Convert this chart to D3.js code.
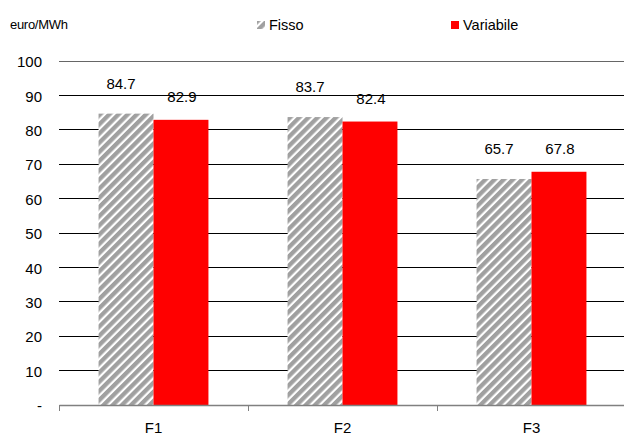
<!DOCTYPE html>
<html><head><meta charset="utf-8">
<script src="https://cdn.jsdelivr.net/npm/d3@7"></script>
<style>body{margin:0;background:#fff;font-family:"Liberation Sans",Arial,sans-serif;}</style>
</head><body>
<svg id="c" width="624" height="436"></svg>
<script>
const categories = ["F1","F2","F3"];
const seriesNames = ["Fisso","Variabile"];
const fisso = [84.7, 83.7, 65.7];
const variabile = [82.9, 82.4, 67.8];
const yTicks = [0,10,20,30,40,50,60,70,80,90,100];
const yTickLabels = ["-","10","20","30","40","50","60","70","80","90","100"];

(function(){
const svg = d3.select("#c");
const defs = svg.append("defs");
const pat = defs.append("pattern").attr("id","hatch").attr("patternUnits","userSpaceOnUse")
  .attr("width",6.5).attr("height",6.5).attr("patternTransform","rotate(45)");
pat.append("rect").attr("width",6.5).attr("height",6.5).attr("fill","#ffffff");
pat.append("rect").attr("width",4.3).attr("height",6.5).attr("fill","#a0a0a0");

const mLeft = 59, mRight = 626, mTop = 61, mBottom = 405;
const x = d3.scaleBand().domain(categories).range([mLeft, mRight]).paddingInner(0).paddingOuter(0);
const x1 = d3.scaleBand().domain(seriesNames).range([0, x.bandwidth()]).paddingInner(0).paddingOuter(0.72);
const y = d3.scaleLinear().domain([0,100]).range([mBottom, mTop]);

svg.append("g").selectAll("line").data(yTicks.filter(d=>d>0)).join("line")
  .attr("x1", mLeft).attr("x2", mRight).attr("y1", d=>y(d)).attr("y2", d=>y(d))
  .attr("stroke", d=> d===100 ? "#666" : "#000").attr("stroke-width",1).attr("shape-rendering","crispEdges");

svg.append("g").selectAll("text").data(yTicks).join("text")
  .attr("x", 42).attr("y", d=>y(d)+1).attr("dy","0.35em").attr("text-anchor","end")
  .attr("font-size",15).attr("fill","#000").text((d,i)=>yTickLabels[i]);

const data = [fisso, variabile];
const labelOffset = [30, 23];
const labelShift = [-5, 1];
const g = svg.append("g");
categories.forEach((c,ci)=>{
  seriesNames.forEach((s,si)=>{
    const v = data[si][ci];
    g.append("rect").attr("x", x(c)+x1(s)).attr("width", x1.bandwidth())
      .attr("y", y(v)).attr("height", y(0)-y(v))
      .attr("fill", si===0 ? "url(#hatch)" : "#ff0000");
    g.append("text").attr("x", x(c)+x1(s)+x1.bandwidth()/2 + labelShift[si]).attr("y", y(v)-labelOffset[si])
      .attr("dy","0.35em").attr("text-anchor","middle").attr("font-size",15).attr("fill","#000")
      .text(v.toFixed(1));
  });
});

const xa = d3.axisBottom(x).tickSize(0).tickPadding(17);
const ax = svg.append("g").attr("transform",`translate(0,${mBottom})`).call(xa);
ax.select(".domain").attr("stroke","#808080").attr("stroke-width",1.5);
ax.selectAll("text").attr("font-size",15).attr("font-family","Liberation Sans, Arial, sans-serif").attr("fill","#000");
svg.append("g").selectAll("line").data(categories).join("line")
  .attr("x1", d=>x(d)).attr("x2", d=>x(d)).attr("y1", mBottom).attr("y2", mBottom+6)
  .attr("stroke","#808080").attr("stroke-width",1).attr("shape-rendering","crispEdges");

svg.append("text").attr("x",10).attr("y",24).attr("dy","0.35em").attr("font-size",13)
  .attr("letter-spacing","-0.3").attr("fill","#000").text("euro/MWh");

const legX = [257, 451];
seriesNames.forEach((s,i)=>{
  svg.append("rect").attr("x", legX[i]).attr("y", 21).attr("width",8).attr("height",8)
    .attr("fill", i===0 ? "url(#hatch)" : "#ff0000");
  svg.append("text").attr("x", legX[i]+12).attr("y", 25).attr("dy","0.35em")
    .attr("font-size",14.5).attr("fill","#000").text(s);
});
})();
</script>
</body></html>
